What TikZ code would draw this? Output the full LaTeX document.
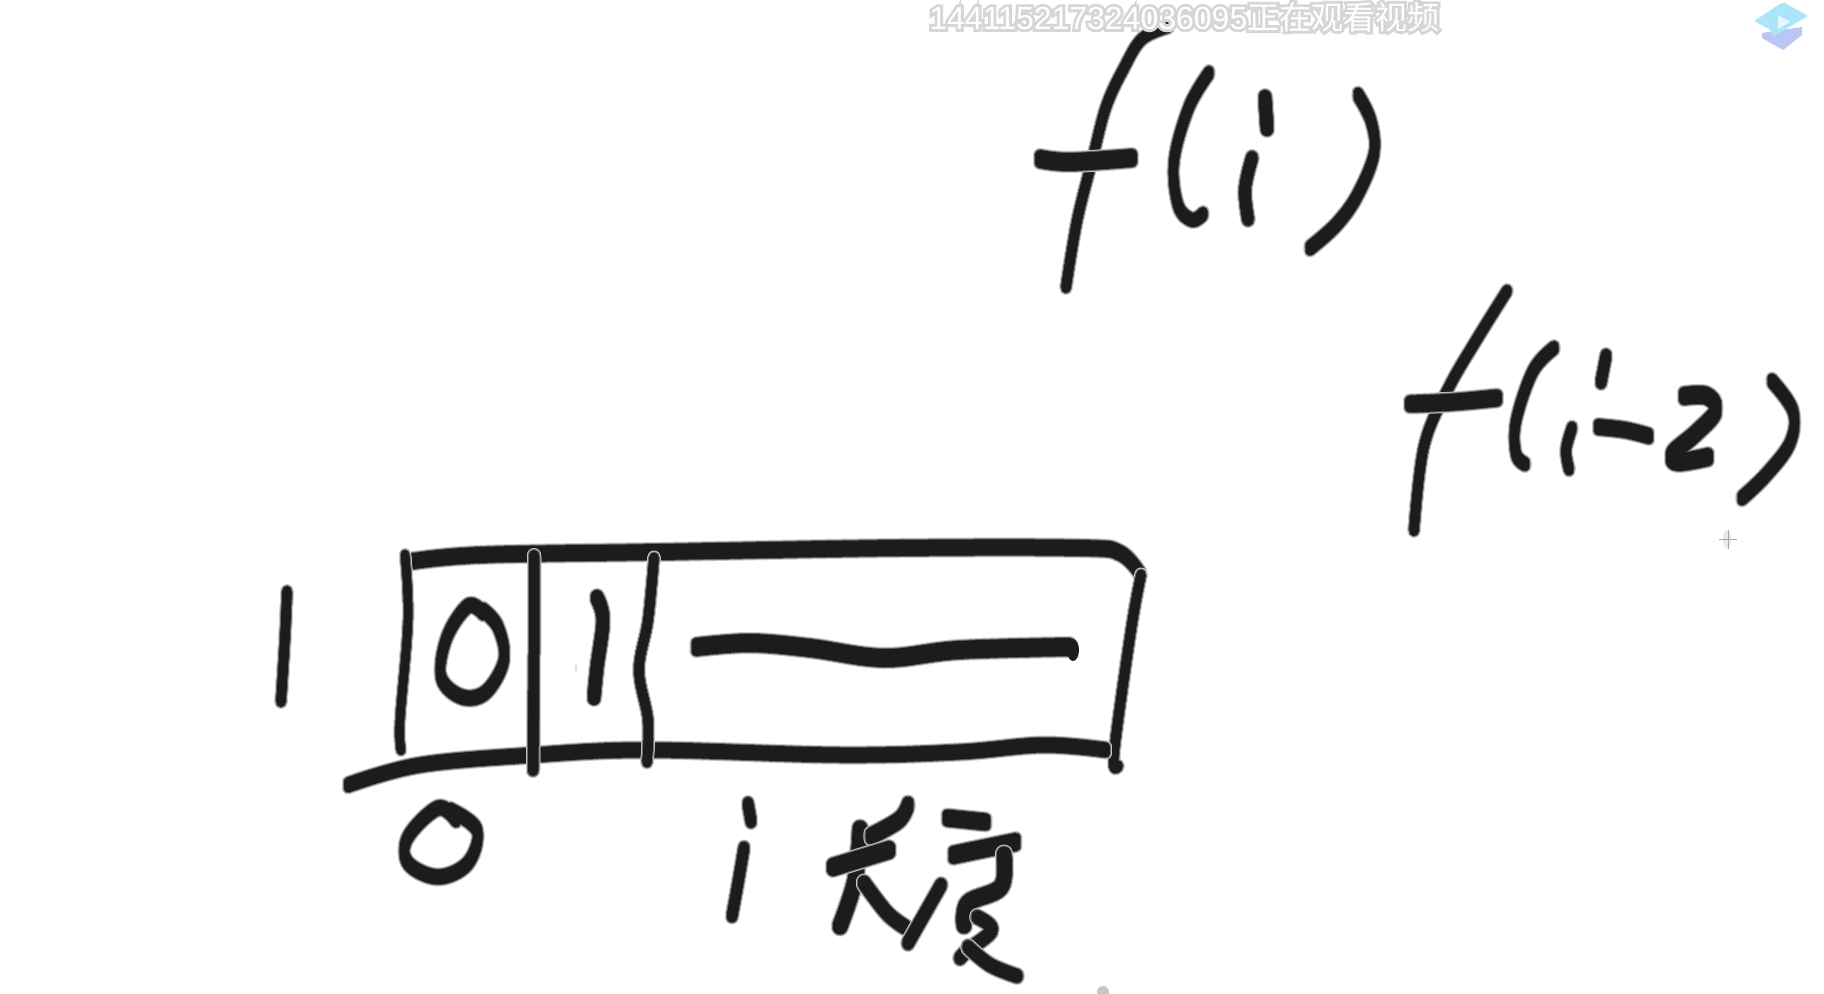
\documentclass[tikz,border=0pt]{standalone}
\usepackage{fontspec}
\setmainfont{Liberation Sans}
\newfontfamily\cjkf{Noto Sans CJK SC}
\definecolor{inkcore}{HTML}{1C1C1C}
\definecolor{inkedge}{HTML}{6E6E6E}
\definecolor{inkfade}{HTML}{C4C4C4}
\definecolor{iconblue}{HTML}{ABE5F9}
\definecolor{iconlav}{HTML}{BCC6F6}
\definecolor{iconplay}{HTML}{E6F8FE}
\tikzset{
  inkbase/.style={line cap=round,line join=round},
  wm/.style={inner sep=0pt,anchor=west,font=\fontsize{16}{18}\selectfont}
}
\newcommand\ink[3]{%
  \foreach \o in {-1,-0.5,0,0.5,1}{\draw[inkbase,inkfade,yshift=\o*#2*0.25pt,line width=(#1+4)*0.5pt] plot[smooth,tension=0.6] coordinates {#3};}%
  \foreach \o in {-1,-0.5,0,0.5,1}{\draw[inkbase,inkedge,yshift=\o*#2*0.25pt,line width=(#1+2)*0.5pt] plot[smooth,tension=0.6] coordinates {#3};}%
  \foreach \o in {-1,-0.5,0,0.5,1}{\draw[inkbase,inkcore,yshift=\o*#2*0.25pt,line width=#1*0.5pt] plot[smooth,tension=0.6] coordinates {#3};}%
}
\begin{document}
\begin{tikzpicture}[x=0.5pt,y=-0.5pt]
\useasboundingbox (0,0) rectangle (1824,994);
\fill[white] (0,0) rectangle (1824,994);
% f(i)
\ink{9}{3}{(1168,27)(1142,39)(1124,68)(1106,107)(1092,161)(1077,221)(1066,287)}
\ink{10}{8}{(1040,159)(1070,162)(1132,158)}
\ink{9}{5}{(1209,73)(1189,107)(1174,161)(1178,205)(1192,220)(1203,214)}
\ink{12}{4}{(1265,98)(1267,128)}
\ink{11}{3}{(1252,158)(1245,189)(1248,219)}
\ink{9}{6}{(1358,95)(1371,121)(1374,154)(1357,196)(1336,225)(1310,248)}
% f(i-2)
\ink{9}{3}{(1507,291)(1477,339)(1448,389)(1424,446)(1414,530)}
\ink{10}{7}{(1410,404)(1454,402)(1497,398)}
\ink{9}{5}{(1554,348)(1533,371)(1516,421)(1516,454)(1525,464)}
\ink{10}{4}{(1606,356)(1601,382)}
\ink{9}{4}{(1572,428)(1566,450)(1569,469)}
\ink{8}{8}{(1598,427)(1625,430)(1649,436)}
\ink{10}{8}{(1684,396)(1707,396)(1716,411)(1695,434)(1672,454)(1678,462)(1708,457)}
\ink{9}{6}{(1772,381)(1793,411)(1790,443)(1766,475)(1742,498)}
% box
\ink{8}{8}{(408,562)(480,555)(660,552)(899,548)(1079,548)(1120,553)(1141,575)}
\ink{9}{2}{(1141,575)(1131,630)(1114,753)(1118,766)}
\ink{8}{7}{(348,785)(420,765)(534,755)(648,750)(840,755)(959,752)(1043,745)(1106,750)}
\ink{8}{2}{(405,555)(408,620)(400,720)(401,750)}
\ink{10}{2}{(534,556)(534,653)(533,770)}
\ink{9}{2}{(654,558)(648,620)(639,670)(648,720)(647,762)}
% digits in and beside the box
\ink{9}{3}{(287,592)(285,637)(281,701)}
\ink{9}{6}{(483,610)(498,627)(504,660)(486,692)(462,697)(441,677)(447,637)(468,606)(483,613)}
\ink{12}{4}{(597,598)(603,620)(597,667)(594,697)}
\ink{9}{9}{(696,647)(750,643)(810,648)(884,658)(959,650)(1070,647)}
\fill[inkcore] (1073,650) ellipse (6 and 11);
% under the box
\ink{9}{6}{(450,810)(477,830)(468,863)(438,877)(408,863)(408,837)(438,808)(456,820)}
\ink{10}{4}{(748,804)(751,821)}
\ink{10}{3}{(744,848)(738,883)(732,916)}
% changdu
\ink{14}{3}{(860,829)(855,880)(840,926)}
\ink{11}{6}{(908,805)(899,820)(871,836)}
\ink{12}{6}{(889,850)(833,867)}
\ink{12}{3}{(864,883)(887,913)(905,927)}
\ink{9}{8}{(947,818)(986,822)}
\ink{9}{9}{(953,855)(1016,842)}
\ink{11}{3}{(941,885)(908,943)}
\ink{14}{3}{(1004,855)(1001,887)(968,903)(964,925)}
\ink{11}{3}{(977,917)(992,930)(968,950)(960,958)}
\ink{11}{3}{(968,947)(990,965)(1017,976)}
% faint marks
\fill[gray!45] (1103,992) ellipse (6 and 6);
\fill[gray!25] (576,668) ellipse (1 and 4);
\fill[gray!18] (1727,539) ellipse (4 and 9);
\draw[gray!70,line width=0.5pt] (1728,530) -- (1728,549) (1719,539) -- (1737,539);
% player icon
\fill[iconlav] (1762,33) -- (1802,27) -- (1802,35) -- (1783,50) -- (1762,38) -- cycle;
\fill[iconblue,rounded corners=1pt] (1783,2) -- (1808,16) -- (1772,37) -- (1771,30) -- (1754,21) -- cycle;
\fill[iconplay] (1778,15) -- (1790,22) -- (1778,29) -- cycle;
% watermark
\node[wm,text=gray!30] (wmhalo) at (929,17) {\special{pdf:code 2 Tr 2.8 w 0.84 G 0.84 g}144115217324036095{\cjkf 正在观看视频}\special{pdf:code 0 Tr 1 w}};
\node[wm,text=white] (wmtext) at (929,17) {144115217324036095{\cjkf 正在观看视频}};
\end{tikzpicture}
\end{document}
